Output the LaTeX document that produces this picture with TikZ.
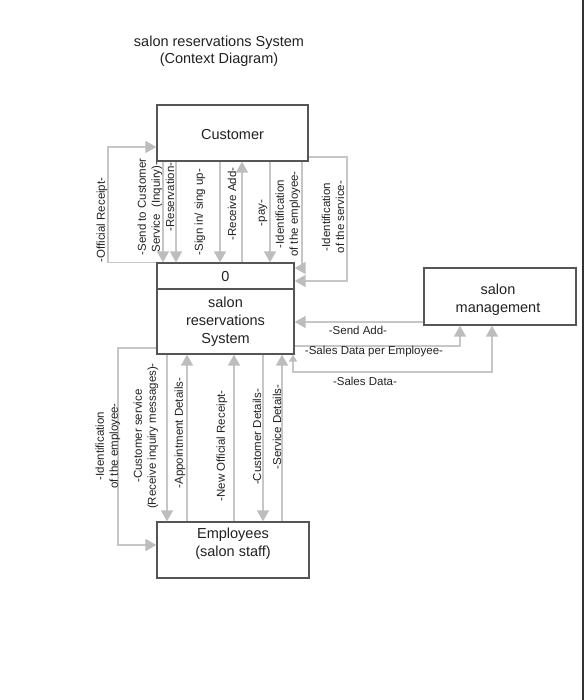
\documentclass[tikz,border=0pt]{standalone}
\usepackage{fontspec}
\setmainfont{Liberation Sans}
\usetikzlibrary{arrows.meta}
\definecolor{boxline}{HTML}{555555}
\definecolor{flowline}{HTML}{C6C6C6}
\definecolor{flowhead}{HTML}{BDBDBD}
\definecolor{txt}{HTML}{222222}
\tikzset{
  box/.style={draw=boxline, line width=1.3pt, rectangle, inner sep=0pt},
  boxtext/.style={text=txt, font=\fontsize{14.5}{18}\selectfont, align=center, inner sep=0pt},
  flow/.style={draw=flowline, line width=1.5pt, -{Triangle[length=11pt,width=12pt,fill=flowhead,color=flowhead]}},
  bothflow/.style={draw=flowline, line width=1.5pt, {Triangle[length=7pt,width=8pt,fill=flowhead,color=flowhead]}-{Triangle[length=11pt,width=12pt,fill=flowhead,color=flowhead]}},
  lbl/.style={text=txt, font=\fontsize{11.5}{14}\selectfont, align=center, inner sep=0pt},
  vlbl/.style={lbl, rotate=90},
}
\begin{document}
\begin{tikzpicture}[x=1pt,y=-1pt]
\useasboundingbox (0,0) rectangle (584,700);
\fill[white] (0,0) rectangle (584,700);
\draw[color=black!80, line width=2pt] (582.5,0) -- (582.5,700);

% title
\node[boxtext, font=\fontsize{14.5}{17}\selectfont] (title) at (219,51) {salon reservations System\\(Context Diagram)};

% boxes
\node[box, minimum width=151pt, minimum height=56pt] (cust) at (232.5,133) {};
\node[boxtext] (custtxt) at (232.5,135) {Customer};

\node[box, minimum width=137pt, minimum height=91pt] (sys) at (225.5,308.5) {};
\draw[boxline, line width=1.3pt] (sys.west |- 0,289) -- (sys.east |- 0,289);
\node[boxtext] (sysid) at (225.5,277) {0};
\node[boxtext] (systxt) at (225.5,322) {salon\\reservations\\System};

\node[box, minimum width=152pt, minimum height=56pt] (emp) at (233,550) {};
\node[boxtext] (emptxt) at (233,544) {Employees\\(salon staff)};

\node[box, minimum width=152pt, minimum height=57pt] (mgmt) at (500,296.5) {};
\node[boxtext] (mgmttxt) at (498,300) {salon\\management};

% top connectors
\draw[flow] (sys.north west) -| (108,147) -- (cust.west |- 0,147);
\draw[flow] (cust.south -| 163,0) -- (sys.north -| 163,0);
\draw[flow] (cust.south -| 176,0) -- (sys.north -| 176,0);
\draw[flow] (cust.south -| 220,0) -- (sys.north -| 220,0);
\draw[flow] (sys.north -| 242,0) -- (cust.south -| 242,0);
\draw[flow] (cust.south -| 270,0) -- (sys.north -| 270,0);
\draw[flow] (cust.south -| 302,0) -- (302,268) -- (sys.east |- 0,268);
\draw[flow] (cust.east |- 0,157) -| (347,281) -- (sys.east |- 0,281);

% top labels
\node[vlbl] (l1) at (102,220) {-Official Receipt-};
\node[vlbl] (l2) at (150,207) {-Send to Customer\\Service\ \ (Inquiry)-};
\node[vlbl] (l3) at (170,197) {-Reservation-};
\node[vlbl] (l4) at (200,212) {-Sign in/ sing up-};
\node[vlbl] (l5) at (232,204) {-Receive Add-};
\node[vlbl] (l6) at (263,213) {-pay-};
\node[vlbl] (l7) at (288,214) {-Identification\\of the employee-};
\node[vlbl] (l8) at (333,217) {-Identification\\of the service-};

% bottom connectors
\draw[flow] (sys.west |- 0,348) -| (118,545) -- (emp.west |- 0,545);
\draw[flow] (sys.south -| 167,0) -- (emp.north -| 167,0);
\draw[flow] (emp.north -| 187,0) -- (sys.south -| 187,0);
\draw[flow] (emp.north -| 234,0) -- (sys.south -| 234,0);
\draw[flow] (sys.south -| 263,0) -- (emp.north -| 263,0);
\draw[flow] (emp.north -| 282,0) -- (sys.south -| 282,0);

% bottom labels
\node[vlbl] (b1) at (108,446) {-Identification\\of the employee-};
\node[vlbl] (b2) at (146,436) {-Customer service\\(Receive inquiry messages)-};
\node[vlbl] (b3) at (180,433) {-Appointment Details-};
\node[vlbl] (b4) at (222,446) {-New Official Receipt-};
\node[vlbl] (b5) at (257,437) {-Customer Details-};
\node[vlbl] (b6) at (277,427) {-Service Details-};

% right connectors
\draw[flow] (mgmt.west |- 0,322) -- (sys.east |- 0,322);
\draw[flow] (sys.east |- 0,346) -| (mgmt.south -| 460,0);
\draw[bothflow] (sys.south -| 293,0) |- (492,372) -- (mgmt.south -| 492,0);

% right labels
\node[lbl] (r1) at (358,330) {-Send Add-};
\node[lbl] (r2) at (374,352) {-Sales Data per Employee-};
\node[lbl] (r3) at (365,381) {-Sales Data-};
\end{tikzpicture}
\end{document}
